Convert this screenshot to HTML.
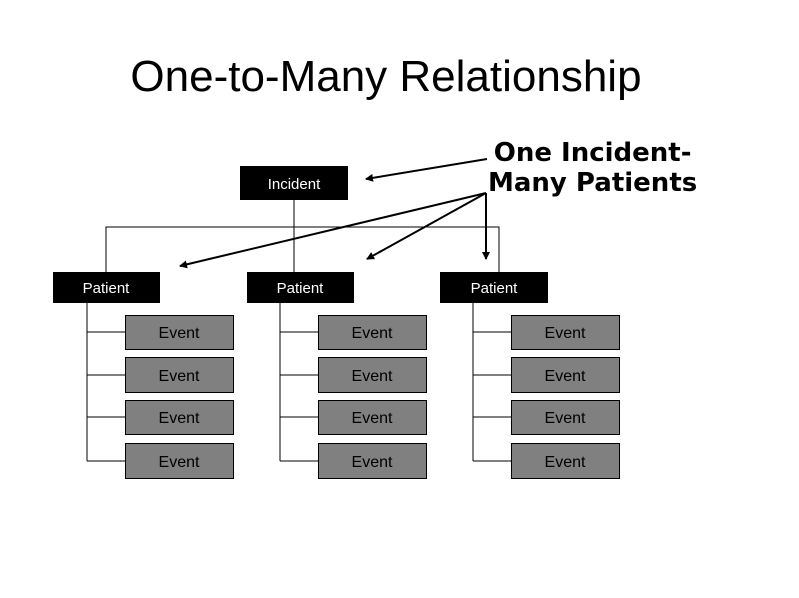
<!DOCTYPE html>
<html><head><style>
html,body{margin:0;padding:0;background:#fff;}
body{width:799px;height:598px;position:relative;overflow:hidden;font-family:"Liberation Sans",sans-serif;}
.t{position:absolute;left:0;width:772px;text-align:center;top:52px;font-size:44px;color:#000;}
.lbl{position:absolute;left:488px;top:138px;font-weight:bold;font-size:26px;line-height:30px;font-family:"DejaVu Sans","Liberation Sans",sans-serif;text-align:center;}
</style></head><body>
<div class="t">One-to-Many Relationship</div>
<div class="lbl">One Incident-<br>Many Patients</div>
<svg width="799" height="598" style="position:absolute;left:0;top:0" font-family="Liberation Sans, sans-serif">
<defs><marker id="a" markerWidth="8" markerHeight="8" refX="7" refY="4" orient="auto" markerUnits="userSpaceOnUse"><path d="M0,0 L8,4 L0,8 z" fill="#000"/></marker></defs>
<g stroke="#000" stroke-width="1" fill="none">
<line x1="294" y1="200" x2="294" y2="272"/>
<polyline points="106,272 106,227 499,227 499,272"/>
<line x1="87" y1="303" x2="87" y2="461"/>
<line x1="280" y1="303" x2="280" y2="461"/>
<line x1="473" y1="303" x2="473" y2="461"/>
<g id="h">
<line x1="87" y1="332" x2="125" y2="332"/><line x1="87" y1="375" x2="125" y2="375"/><line x1="87" y1="417" x2="125" y2="417"/><line x1="87" y1="461" x2="125" y2="461"/>
</g>
<use href="#h" x="193"/><use href="#h" x="386"/>
</g>
<g fill="#000">
<rect x="240" y="166" width="108" height="34"/>
<rect x="53" y="272" width="107" height="31"/>
<rect x="247" y="272" width="107" height="31"/>
<rect x="440" y="272" width="108" height="31"/>
</g>
<g fill="#fff" font-size="15" text-anchor="middle">
<text x="294" y="189">Incident</text>
<text x="106" y="293">Patient</text>
<text x="300" y="293">Patient</text>
<text x="494" y="293">Patient</text>
</g>
<g id="col" fill="#808080" stroke="#000" stroke-width="1">
<rect x="125.5" y="315.5" width="108" height="34"/>
<rect x="125.5" y="357.5" width="108" height="35"/>
<rect x="125.5" y="400.5" width="108" height="34"/>
<rect x="125.5" y="443.5" width="108" height="35"/>
<g fill="#000" stroke="none" font-size="16" text-anchor="middle">
<text x="179" y="338">Event</text><text x="179" y="381">Event</text><text x="179" y="423">Event</text><text x="179" y="467">Event</text>
</g>
</g>
<use href="#col" x="193"/><use href="#col" x="386"/>
<g stroke="#000" stroke-width="2" marker-end="url(#a)">
<line x1="487" y1="159" x2="366" y2="179"/>
<line x1="486" y1="193" x2="180" y2="266"/>
<line x1="486" y1="193" x2="367" y2="259"/>
<line x1="486" y1="193" x2="486" y2="259"/>
</g>
</svg>
</body></html>
